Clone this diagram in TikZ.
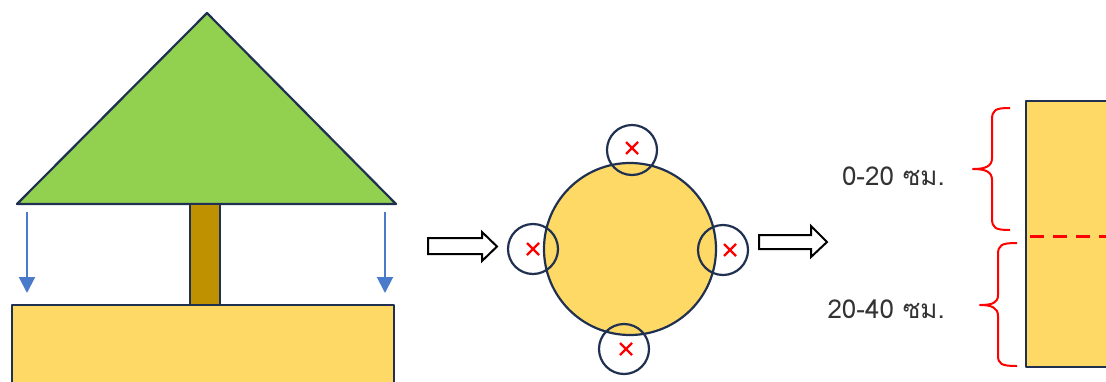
\documentclass[tikz,border=0pt]{standalone}
\usepackage{fontspec}
\newfontfamily\thaifont[Script=Thai]{Loma}
\usetikzlibrary{arrows.meta}
\definecolor{navy}{HTML}{1F3050}
\definecolor{leaf}{HTML}{92D050}
\definecolor{trunkc}{HTML}{BF9000}
\definecolor{soil}{HTML}{FFD966}
\definecolor{rain}{HTML}{4A7BCB}
\definecolor{txt}{HTML}{333333}
\begin{document}
\begin{tikzpicture}[x=1pt,y=-1pt,
  outline/.style={draw=navy,line width=2.2pt,line join=round},
  rainarrow/.style={draw=rain,line width=2pt,-{Triangle[width=16pt,length=16pt]}},
  blockarrow/.style={draw=black,line width=2pt,fill=white,line join=miter},
  xmark/.style={draw=red,line width=2.2pt},
  bracec/.style={draw=red,line width=2pt,line join=round},
  label/.style={font=\thaifont\fontsize{26}{30}\selectfont,text=txt,inner sep=0pt}]
\path[use as bounding box] (0,0) rectangle (1106,381);
% tree
\draw[outline,fill=leaf] (207,13) -- (396,204) -- (17,204) -- cycle;
\draw[outline,fill=soil] (12,305) rectangle (394,390);
\draw[outline,fill=trunkc] (190,204) rectangle (220,305);
\coordinate (rl1) at (27,212); \coordinate (rl2) at (27,293);
\coordinate (rr1) at (385,212); \coordinate (rr2) at (385,293);
\draw[rainarrow] (rl1) -- (rl2);
\draw[rainarrow] (rr1) -- (rr2);
% block arrow 1
\draw[blockarrow] (428,238) -- (482,238) -- (482,232) -- (497,246.5) -- (482,261) -- (482,254) -- (428,254) -- cycle;
% root zone circle
\node[outline,fill=soil,circle,minimum size=172pt,inner sep=0pt] (zone) at (630,249) {};
\foreach \n/\cx/\cy/\mx/\my in {t/632/150/632/148, l/533/249/533/249, r/723/250/730/250, b/624/349/626/349}{
  \node[draw=navy,line width=2.2pt,circle,minimum size=50pt,inner sep=0pt] (c\n) at (\cx,\cy) {};
  \draw[xmark] (\mx-6,\my-6) -- (\mx+6,\my+6) (\mx-6,\my+6) -- (\mx+6,\my-6);
}
% block arrow 2
\draw[blockarrow] (759,235) -- (811,235) -- (811,226) -- (827,242) -- (811,257) -- (811,249) -- (759,249) -- cycle;
% soil profile
\draw[outline,fill=soil] (1026,101) rectangle (1120,367);
\draw[red,line width=3pt,dash pattern=on 14pt off 9pt] (1030,236) -- (1106,236);
% braces
\draw[bracec] (1010,108) .. controls (995,108) and (992,110) .. (992,120) -- (992,158) .. controls (992,166) and (986,169) .. (973,169) .. controls (986,169) and (992,172) .. (992,180) -- (992,218) .. controls (992,228) and (995,230) .. (1010,230);
\draw[bracec] (1017,243) .. controls (1001,243) and (998,245) .. (998,255) -- (998,295) .. controls (998,303) and (992,305) .. (980,305) .. controls (992,305) and (998,308) .. (998,316) -- (998,355) .. controls (998,364) and (1001,366) .. (1017,366);
\node[label,anchor=east] (t1) at (945,176) {0-20 ซม.};
\node[label,anchor=east] (t2) at (945,309) {20-40 ซม.};
\end{tikzpicture}
\end{document}
